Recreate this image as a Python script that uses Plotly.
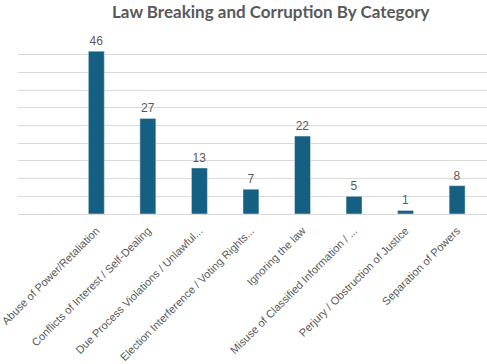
import plotly.graph_objects as go

categories = [" ", "Abuse of Power/Retaliation", "Conflicts of Interest / Self-Dealing",
              "Due Process Violations / Unlawful...", "Election Interference / Voting Rights...",
              "Ignoring the law", "Misuse of Classified Information / ...",
              "Perjury / Obstruction of Justice", "Separation of Powers"]
values = [0, 46, 27, 13, 7, 22, 5, 1, 8]
labels = ["", "46", "27", "13", "7", "22", "5", "1", "8"]

fig = go.Figure(go.Bar(
    x=categories, y=values, text=labels, textposition="outside",
    marker_color="#156082", cliponaxis=False,
    textfont=dict(family="Liberation Sans", size=12, color="#595959"),
))
fig.update_layout(
    width=487, height=364,
    margin=dict(l=18, r=0, t=37, b=150, autoexpand=False),
    paper_bgcolor="white", plot_bgcolor="white",
    bargap=0.69, showlegend=False,
    title=dict(text="<b>Law Breaking and Corruption By Category</b>", x=0.556, xanchor="center",
               y=1 - 12 / 364, yanchor="middle",
               font=dict(family="Lato", size=17, color="#595959")),
)
fig.update_xaxes(range=[-0.52, 8.58], tickangle=-45, showline=True, linecolor="#D9D9D9",
                 tickfont=dict(family="Liberation Sans", size=11, color="#595959"),
                 ticks="", showgrid=False, automargin=False, ticklabelstandoff=5)
fig.update_yaxes(range=[0, 50], dtick=5, showticklabels=False, gridcolor="#D9D9D9",
                 gridwidth=1, zeroline=False, showline=False, automargin=False)
fig.write_html("out.html", config={"displayModeBar": False},
               post_script="document.body.style.margin='0';")
